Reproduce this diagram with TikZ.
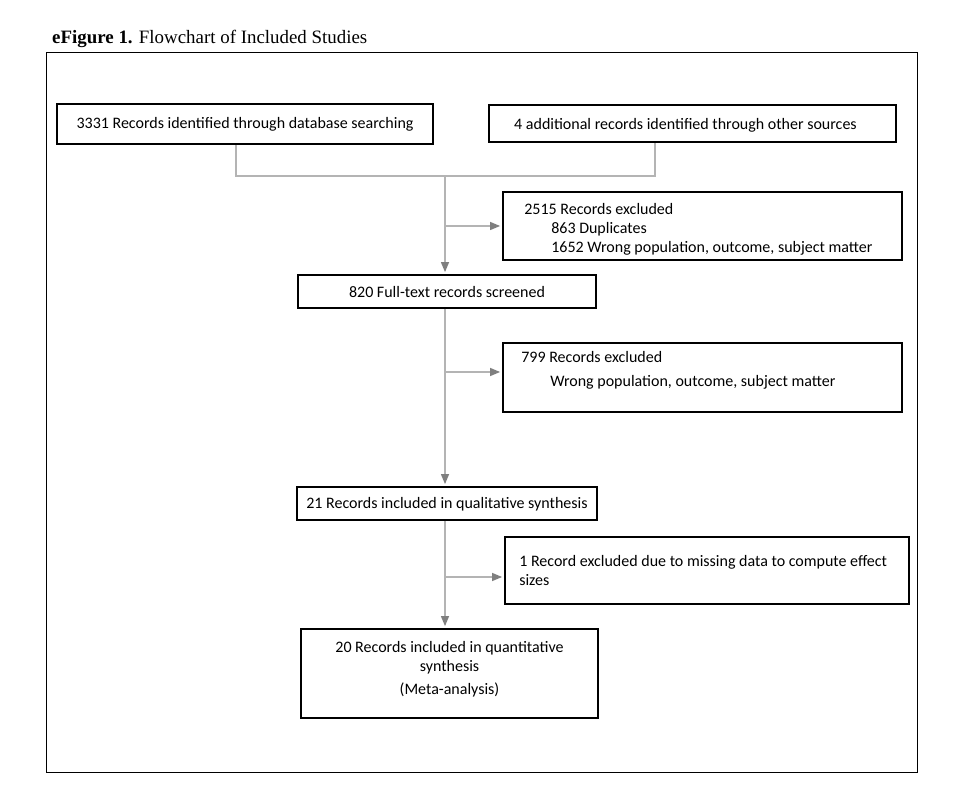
\documentclass[tikz,border=0pt]{standalone}
\usepackage{fontspec}
\setmainfont{Carlito}
\newfontfamily\titlefont{Liberation Serif}
\usetikzlibrary{arrows.meta,fit}

\definecolor{linegray}{HTML}{B4B4B4}
\definecolor{tipgray}{HTML}{7F7F7F}

\tikzset{
  frame/.style={draw=black, line width=1pt},
  box/.style={draw=black, line width=1.8pt, fill=white, inner sep=0pt},
  label/.style={font=\fontsize{16}{19}\selectfont, inner sep=0pt},
  conn/.style={draw=linegray, line width=1.2pt},
  arr/.style={conn, -{Triangle[length=10pt,width=8pt,color=tipgray]}, shorten >=2pt},
}

\begin{document}
\begin{tikzpicture}[x=1pt,y=-1pt]
  \useasboundingbox (0,0) rectangle (970,799);

  % heading and outer frame
  \node[anchor=base west, inner sep=0pt, font=\titlefont\fontsize{18.9}{22}\selectfont] (title) at (52,44)
    {\textbf{eFigure 1.} Flowchart of Included Studies};
  \draw[frame] (46,53) rectangle (917,772);

  % boxes
  \node[box, fit={(57,104) (433,144)}] (db) {};
  \node[box, fit={(489,105) (896,142)}] (other) {};
  \node[box, fit={(503,192) (902,260)}] (exA) {};
  \node[box, fit={(298,275) (596,308)}] (full) {};
  \node[box, fit={(503,343) (902,412)}] (exB) {};
  \node[box, fit={(297,487) (597,520)}] (qual) {};
  \node[box, fit={(505,537) (909,604)}] (exC) {};
  \node[box, fit={(301,629) (598,718)}] (quant) {};

  % box texts
  \node[label] (tdb) at (db.center) {3331 Records identified through database searching};
  \node[label] (tother) at ([xshift=-7pt,yshift=-1.5pt]other.center) {4 additional records identified through other sources};
  \node[label, anchor=west, align=left] (texA) at ([xshift=22pt,yshift=-3pt]exA.west)
    {2515 Records excluded\\\hspace*{27pt}863 Duplicates\\\hspace*{27pt}1652 Wrong population, outcome, subject matter};
  \node[label] (tfull) at ([yshift=-0.5pt]full.center) {820 Full-text records screened};
  \node[label, anchor=north west, align=left, font=\fontsize{16}{24}\selectfont] (texB) at ([xshift=19pt,yshift=-9.5pt]exB.north west)
    {799 Records excluded\\\hspace*{29pt}Wrong population, outcome, subject matter};
  \node[label] (tqual) at ([yshift=-0.5pt]qual.center) {21 Records included in qualitative synthesis};
  \node[label, anchor=west, align=left] (texC) at ([xshift=15pt]exC.west)
    {1 Record excluded due to missing data to compute effect\\sizes};
  \node[label, anchor=north, align=center] (tquant) at ([yshift=-13pt]quant.north)
    {20 Records included in quantitative\\synthesis\\[4pt](Meta-analysis)};

  % junction points of the connectors
  \coordinate (jl) at (236,176);
  \coordinate (jm) at (445,176);
  \coordinate (jr) at (655,176);

  % merging the two sources
  \draw[conn] (db.south -| jl) |- (jr) -- (other.south -| jr);
  \draw[arr] (jm) -- (full.north -| jm);
  \draw[arr] (jm |- exA.west) -- (exA.west);

  % screening to qualitative synthesis
  \draw[arr] (full.south -| jm) -- (qual.north -| jm);
  \draw[arr] (jm |- 0,372) -- (exB.west |- 0,372);

  % qualitative to quantitative synthesis
  \draw[arr] (qual.south -| jm) -- (quant.north -| jm);
  \draw[arr] (jm |- 0,577) -- (exC.west |- 0,577);
\end{tikzpicture}
\end{document}
